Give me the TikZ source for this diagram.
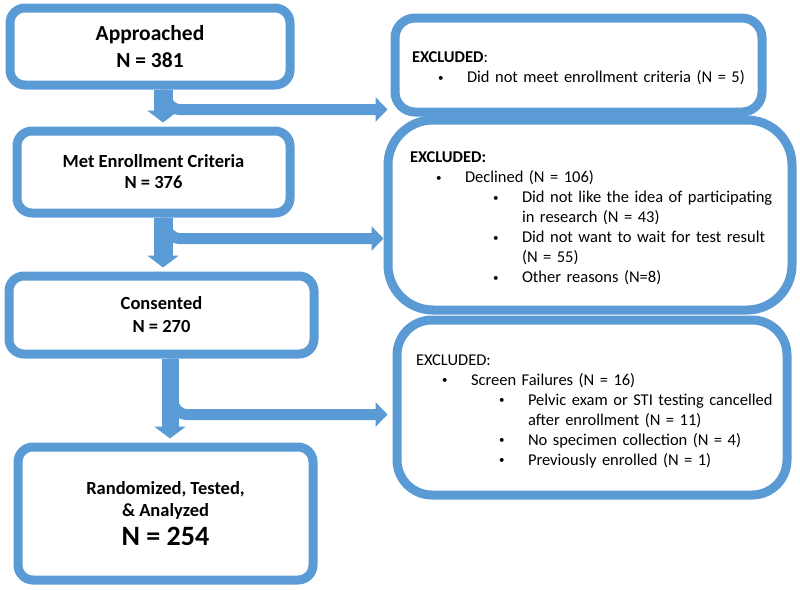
\documentclass[tikz,border=0pt]{standalone}
\usepackage{fontspec}
\setmainfont{Carlito}
\usepackage{xcolor}
\usepackage{tikz}
\usetikzlibrary{arrows.meta}
\definecolor{fblue}{RGB}{91,155,213}
\newcommand\fsz[2]{\fontsize{#1}{#2}\selectfont}
\newcommand\blt{\raisebox{1.5pt}{\fsz{11}{11}\textbullet}}
\newcommand\lvA[1]{\mbox{\hspace*{26pt}\makebox[29pt][l]{\blt}#1}}
\newcommand\lvB[1]{\mbox{\hspace*{83pt}\makebox[29pt][l]{\blt}#1}}
\newcommand\lvC[1]{\mbox{\hspace*{112pt}#1}}
\tikzstyle{bx}=[draw=fblue,line width=9pt,fill=white,rounded corners=15pt,align=center,inner sep=0pt]
\tikzstyle{xbx}=[bx,align=left,inner ysep=0pt,font=\fsz{16.5}{20},execute at begin node={\rule{0pt}{18pt}}]
\tikzstyle{shaft}=[fblue,line width=19pt,-{Triangle[length=12pt,width=31pt]},shorten >=4pt]
\tikzstyle{br}=[fblue,line width=11pt,rounded corners=14pt,-{Triangle[length=12pt,width=24pt]}]

\begin{document}
\begin{tikzpicture}[x=1pt,y=1pt]
	\useasboundingbox (0,0) rectangle (800,-589);
	% left column
	\node[bx,minimum width=280pt,minimum height=77pt,font=\bfseries\fsz{21.5}{27}] (appr) at (150,-46.5) {Approached\\N = 381};
	\node[bx,minimum width=273pt,minimum height=82pt,font=\bfseries\fsz{18.5}{21}] (met) at (153.5,-172) {Met Enrollment Criteria\\N = 376};
	\node[bx,minimum width=305pt,minimum height=78pt,font=\bfseries\fsz{18.5}{23}] (cons) at (161.5,-315) {Consented\\N = 270};
	\node[bx,minimum width=295pt,minimum height=133pt,font=\bfseries\fsz{18.5}{22}] (rand) at (165.5,-513.5) {Randomized, Tested,\\\& Analyzed\\[7pt]{\fsz{28}{30}N = 254}};
	% exclusions
	\node[xbx,rounded corners=20pt,minimum height=94pt,inner xsep=17pt,text width=333pt] (excl1) at (578.5,-65)
	  {\textbf{EXCLUDED}:\\
	   \lvA{Did not meet enrollment criteria (N = 5)}};
	\node[xbx,rounded corners=45pt,minimum height=190pt,inner xsep=22pt,text width=360pt] (excl2) at (590,-215)
	  {\textbf{EXCLUDED:}\\
	   \lvA{Declined (N = 106)}\\
	   \lvB{Did not like the idea of participating}\\
	   \lvC{in research (N = 43)}\\
	   \lvB{Did not want to wait for test result}\\
	   \lvC{(N = 55)}\\
	   \lvB{Other reasons (N=8)}};
	\node[xbx,rounded corners=35pt,minimum height=175pt,inner xsep=19pt,text width=352pt] (excl3) at (592,-407.5)
	  {EXCLUDED:\\
	   \lvA{Screen Failures (N = 16)}\\
	   \lvB{Pelvic exam or STI testing cancelled}\\
	   \lvC{after enrollment (N = 11)}\\
	   \lvB{No specimen collection (N = 4)}\\
	   \lvB{Previously enrolled (N = 1)}};
	% arrows
	\coordinate (k1) at ([yshift=-20pt]appr.south);
	\coordinate (k2) at ([yshift=-21pt]met.south);
	\coordinate (k3) at ([yshift=-56pt]cons.south);
	\draw[br,shorten >=3pt] ([xshift=16pt]appr.south) |- (k1 -| excl1.west);
	\draw[br] ([xshift=12.5pt]met.south) |- (k2 -| excl2.west);
	\draw[br,shorten >=5pt] ([xshift=11.5pt]cons.south) |- (k3 -| excl3.west);
	\draw[shaft] ([xshift=13pt]appr.south) -- ([xshift=9.5pt]met.north);
	\draw[shaft] ([xshift=9.5pt]met.south) -- ([xshift=1.5pt]cons.north);
	\draw[shaft,line width=17pt] ([xshift=8.5pt]cons.south) -- ([xshift=4.5pt]rand.north);
\end{tikzpicture}
\end{document}
